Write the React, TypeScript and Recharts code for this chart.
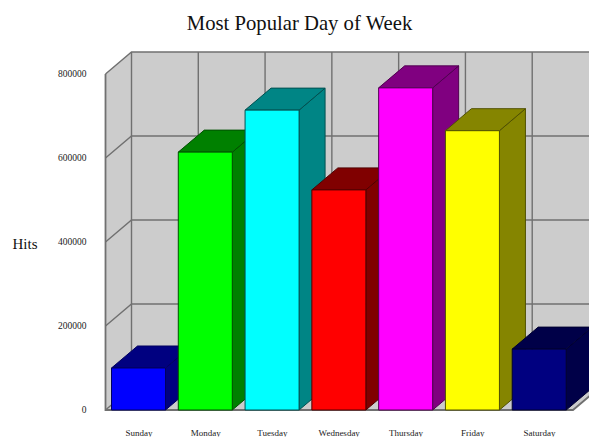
import { BarChart, Bar, XAxis, YAxis, usePlotArea } from 'recharts';

const days = ['Sunday', 'Monday', 'Tuesday', 'Wednesday', 'Thursday', 'Friday', 'Saturday'];
const hits = [100000, 614000, 714000, 524000, 767000, 665000, 145000];
const frontColors = ['#0000ff', '#00ff00', '#00ffff', '#ff0000', '#ff00ff', '#ffff00', '#000080'];
const shadeColors = ['#000080', '#008000', '#008585', '#800000', '#800080', '#858500', '#000048'];
const edgeColors = ['#000060', '#005000', '#005050', '#500000', '#500050', '#505000', '#000030'];
const yTicks = [0, 200000, 400000, 600000, 800000];
const yMax = 800000;

const DX = 26;
const DY = 22;
const FONT = '"Liberation Serif", serif';
const WALL = '#cccccc';
const WALL_LINE = '#707070';

const data = days.map((day, i) => ({ day, hits: hits[i] }));

// back wall, left wall and floor, all pushed back by the same depth as the bars
const Walls = () => {
    const plot = usePlotArea();
    if (!plot) return null;
    const { x, y, width, height } = plot;
    const bottom = y + height;
    const right = x + width;
    const step = width / days.length;
    const lineProps = { stroke: WALL_LINE, strokeWidth: 1.4, fill: 'none' };
    return (
        <g>
            <rect x={x + DX} y={y - DY} width={width} height={height} fill={WALL} />
            <polygon points={`${x},${y} ${x + DX},${y - DY} ${x + DX},${bottom - DY} ${x},${bottom}`} fill={WALL} />
            <polygon points={`${x},${bottom} ${x + DX},${bottom - DY} ${right + DX},${bottom - DY} ${right},${bottom}`} fill={WALL} />
            {yTicks.map((t) => {
                const ty = bottom - (t / yMax) * height;
                return <polyline key={t} points={`${x},${ty} ${x + DX},${ty - DY} ${right + DX},${ty - DY}`} {...lineProps} />;
            })}
            {days.map((d, i) => (
                <line key={d} x1={x + DX + i * step} y1={y - DY} x2={x + DX + i * step} y2={bottom - DY} {...lineProps} />
            ))}
            <polyline points={`${x},${y} ${x},${bottom} ${right},${bottom} ${right + DX},${bottom - DY}`} {...lineProps} strokeWidth={1.8} />
        </g>
    );
};

const Bar3D = ({ x, y, width, height, index }: any) => {
    const edge = edgeColors[index];
    const shade = shadeColors[index];
    const r = x + width;
    const b = y + height;
    return (
        <g stroke={edge} strokeWidth={1} strokeLinejoin="round">
            <polygon points={`${r},${y} ${r + DX},${y - DY} ${r + DX},${b - DY} ${r},${b}`} fill={shade} />
            <polygon points={`${x},${y} ${x + DX},${y - DY} ${r + DX},${y - DY} ${r},${y}`} fill={shade} />
            <rect x={x} y={y} width={width} height={height} fill={frontColors[index]} />
        </g>
    );
};

export default function App() {
    return (
        <div style={{ position: 'absolute', left: 0, top: 0, width: 589, height: 437, overflow: 'hidden', background: '#fff' }}>
            <BarChart width={589} height={437} data={data} margin={{ top: 74, right: 16, left: 60.5, bottom: 0 }}>
                <Walls />
                <XAxis
                    dataKey="day"
                    height={27}
                    axisLine={false}
                    tickLine={false}
                    interval={0}
                    tickMargin={14}
                    tick={{ fill: '#222', fontSize: 9, fontFamily: FONT }}
                />
                <YAxis
                    type="number"
                    width={45}
                    domain={[0, yMax]}
                    ticks={yTicks}
                    axisLine={false}
                    tickLine={false}
                    tickMargin={13}
                    tick={{ fill: '#222', fontSize: 9.5, fontFamily: FONT }}
                />
                <Bar dataKey="hits" barSize={54} shape={<Bar3D />} isAnimationActive={false} />
                <text x={299.5} y={30} textAnchor="middle" fontSize={20.7} fontFamily={FONT} fill="#111">Most Popular Day of Week</text>
                <text x={25} y={249} textAnchor="middle" fontSize={15} fontFamily={FONT} fill="#111">Hits</text>
            </BarChart>
        </div>
    );
}
